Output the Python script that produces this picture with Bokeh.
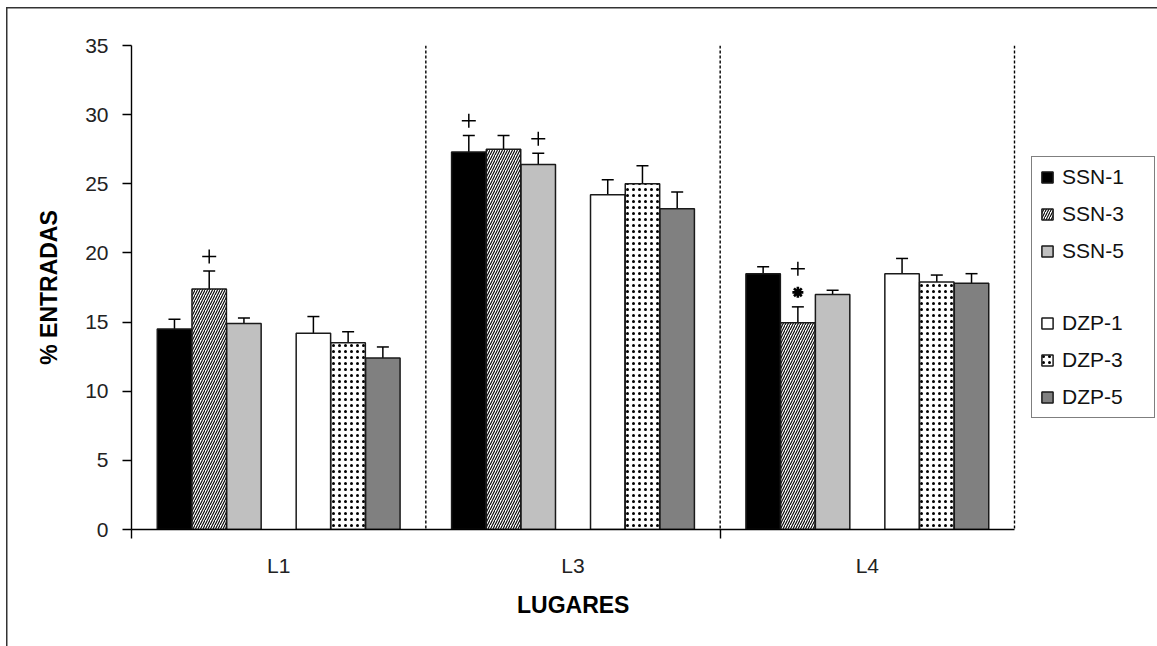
from bokeh.plotting import figure
from bokeh.models import (Range1d, FixedTicker, Span, Whisker, TeeHead, Title,
                          ColumnDataSource, Legend, LegendItem)
from bokeh.embed import file_html
from bokeh.resources import INLINE

# ---------------- data ----------------
categories = ["L1", "L3", "L4"]
series = ["SSN-1", "SSN-3", "SSN-5", "DZP-1", "DZP-3", "DZP-5"]

ssn1 = [14.5, 27.3, 18.5]
ssn1_err = [0.7, 1.2, 0.5]
ssn3 = [17.4, 27.5, 14.95]
ssn3_err = [1.3, 1.0, 1.15]
ssn5 = [14.9, 26.4, 17.0]
ssn5_err = [0.4, 0.8, 0.3]
dzp1 = [14.2, 24.2, 18.5]
dzp1_err = [1.2, 1.1, 1.1]
dzp3 = [13.5, 25.0, 17.9]
dzp3_err = [0.8, 1.3, 0.5]
dzp5 = [12.4, 23.2, 17.8]
dzp5_err = [0.8, 1.2, 0.7]

y_ticks = [0, 5, 10, 15, 20, 25, 30, 35]

# significance marks: (series, category, symbol) stacked above error bar
mark_series = ["SSN-3", "SSN-1", "SSN-5", "SSN-3", "SSN-3"]
mark_cats = ["L1", "L3", "L3", "L4", "L4"]
mark_symbols = ["+", "+", "+", "*", "+"]

x_title = "LUGARES"
y_title = "% ENTRADAS"

# ---------------- styles ----------------
values = [ssn1, ssn3, ssn5, dzp1, dzp3, dzp5]
errors = [ssn1_err, ssn3_err, ssn5_err, dzp1_err, dzp3_err, dzp5_err]
slots = [0, 1, 2, 4, 5, 6]          # slot 3 is the gap between groups
slot_w = 0.118
bar_w = 0.117
styles = [
    dict(fill_color="black"),
    dict(fill_color="white", hatch_pattern="right_diagonal_line", hatch_color="black",
         hatch_scale=5, hatch_weight=1.1),
    dict(fill_color="#C0C0C0"),
    dict(fill_color="white"),
    dict(fill_color="white", hatch_pattern="dot", hatch_color="black",
         hatch_scale=6, hatch_weight=0.7),
    dict(fill_color="#808080"),
]
FONT = "Liberation Sans"

n_cat = len(categories)
frame_left, frame_right_axis, fig_w = 131, 1014, 1157
x_end = n_cat * (fig_w - frame_left) / (frame_right_axis - frame_left)

p = figure(width=fig_w, height=646, x_range=Range1d(0, x_end), y_range=Range1d(0, 35),
           output_backend="svg", toolbar_location=None,
           min_border_left=frame_left, min_border_right=0, min_border_top=45,
           min_border_bottom=117)
p.styles = {"box-shadow": "inset 6px 7px 0 0 white, inset 7.5px 8.5px 0 0 #333"}
p.border_fill_alpha = 0
p.outline_line_color = None
p.xgrid.visible = False
p.ygrid.visible = False
p.background_fill_color = None

# dashed separators
for v in range(1, n_cat + 1):
    p.add_layout(Span(location=v, dimension="height", line_dash="3 2",
                      line_width=1.4, line_color="black"))

renderers = []
tops_by_series = {}
for k, (name, vals, errs) in enumerate(zip(series, values, errors)):
    xs = [i + 0.5 + (slots[k] - 3) * slot_w for i in range(n_cat)]
    src = ColumnDataSource(dict(x=xs, top=vals, up=[v + e for v, e in zip(vals, errs)]))
    r = p.vbar(x="x", top="top", bottom=0, width=bar_w, source=src,
               line_color="#1a1a1a", line_width=1.5, **styles[k])
    renderers.append(r)
    tops_by_series[name] = (xs, [v + e for v, e in zip(vals, errs)])
    w = Whisker(base="x", lower="top", upper="up", source=src, dimension="height",
                line_color="black", line_width=1.5,
                upper_head=TeeHead(size=12, line_color="black", line_width=1.5),
                lower_head=None)
    p.add_layout(w)

# significance markers
stack_offsets = [1.05, 2.75]
count = {}
plus_x, plus_y, star_x, star_y = [], [], [], []
for s, c, sym in zip(mark_series, mark_cats, mark_symbols):
    xs, ups = tops_by_series[s]
    ci = categories.index(c)
    n = count.get((s, c), 0)
    count[(s, c)] = n + 1
    y = ups[ci] + stack_offsets[n]
    if sym == "+":
        plus_x.append(xs[ci]); plus_y.append(y)
    else:
        star_x.append(xs[ci]); star_y.append(y)
p.scatter(plus_x, plus_y, marker="cross", size=14, line_color="black", line_width=1.5)
p.scatter(star_x, star_y, marker="asterisk", size=11, line_color="black", line_width=2.6)

# axes
ya = p.yaxis[0]
ya.ticker = FixedTicker(ticks=y_ticks, minor_ticks=[])
ya.major_tick_out = 9
ya.major_tick_in = 0
ya.axis_line_color = "black"
ya.axis_line_width = 1.4
ya.major_tick_line_width = 1.4
ya.major_label_text_font = FONT
ya.major_label_text_font_size = "21px"
ya.major_label_text_color = "#222222"
ya.major_label_standoff = 14
ya.axis_label = y_title
ya.axis_label_text_font = FONT
ya.axis_label_text_font_style = "bold"
ya.axis_label_text_font_size = "23px"
ya.axis_label_text_color = "black"
ya.axis_label_standoff = 20

xa = p.xaxis[0]
xa.ticker = FixedTicker(ticks=[i + 0.5 for i in range(n_cat)], minor_ticks=[0, 2])
xa.major_label_overrides = {i + 0.5: c for i, c in enumerate(categories)}
xa.major_tick_out = 0
xa.major_tick_in = 0
xa.minor_tick_out = 9
xa.minor_tick_in = 0
xa.minor_tick_line_width = 1.4
xa.minor_tick_line_color = "black"
xa.axis_line_color = "black"
xa.axis_line_width = 1.4
xa.bounds = (0, n_cat)
xa.major_label_text_font = FONT
xa.major_label_text_font_size = "21px"
xa.major_label_text_color = "#222222"
xa.major_label_standoff = 15

# x title centred under the category axis (the frame also holds the legend)
axis_center_px = (frame_right_axis - frame_left) / 2
title_half_w = 56
p.add_layout(Title(text=x_title, align="left", offset=axis_center_px - title_half_w,
                   text_font=FONT, text_font_style="bold", text_font_size="23px",
                   text_color="black", standoff=20), "below")

# legend (blank row between SSN and DZP groups)
dummy = p.vbar(x=[], top=[], width=0.1, fill_alpha=0, line_alpha=0)
items = [LegendItem(label=series[i], renderers=[renderers[i]]) for i in range(3)]
items.append(LegendItem(label=" ", renderers=[dummy]))
items += [LegendItem(label=series[i], renderers=[renderers[i]]) for i in range(3, 6)]
legend = Legend(items=items, location=(900, 111), margin=0, padding=8,
                border_line_color="black", border_line_width=1.4,
                label_text_font=FONT, label_text_font_size="21px",
                label_text_color="#111111",
                glyph_width=14, glyph_height=14, label_height=22, label_width=84,
                label_standoff=8, spacing=13, background_fill_color="white")
p.add_layout(legend)

open("out.html", "w").write(file_html(p, INLINE))
